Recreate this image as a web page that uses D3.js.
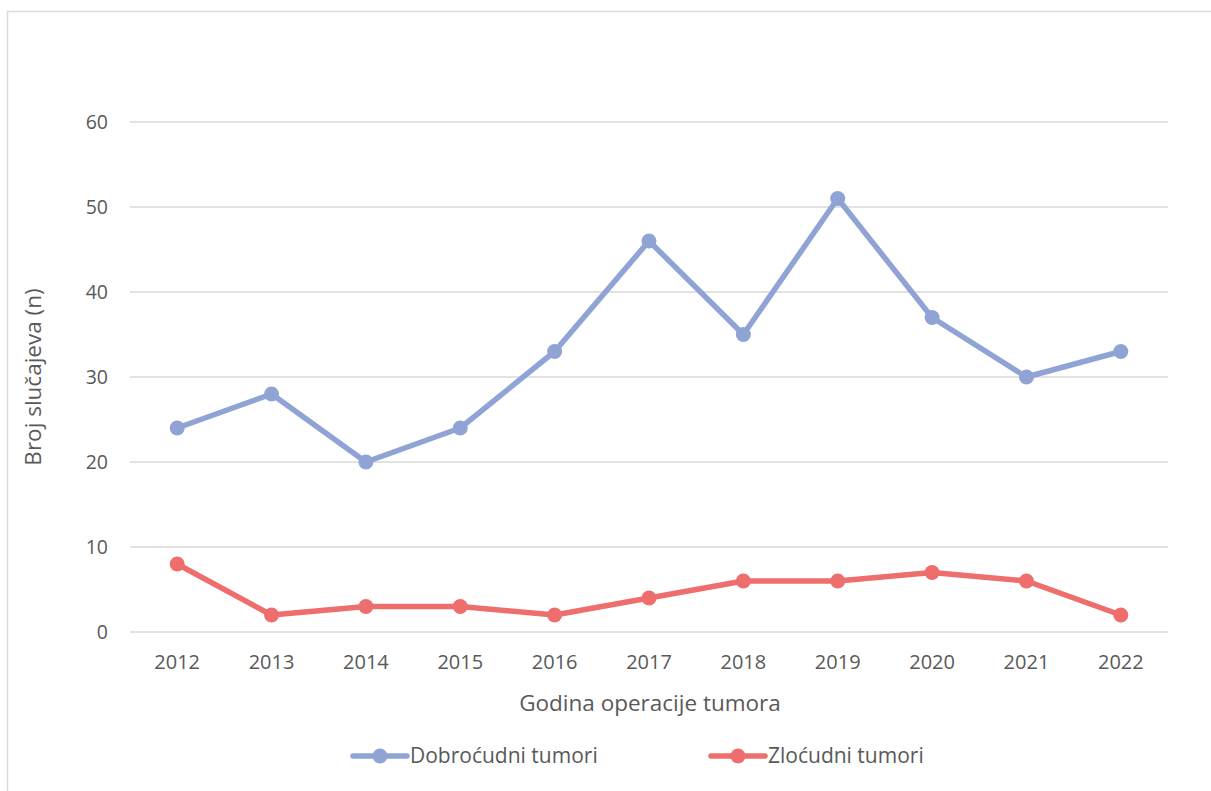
<!DOCTYPE html>
<html><head><meta charset="utf-8">
<script src="https://cdn.jsdelivr.net/npm/d3@7/dist/d3.min.js"></script>
<style>body{margin:0;background:#fff;}svg{display:block;}</style>
</head><body>
<script>
const years = ["2012","2013","2014","2015","2016","2017","2018","2019","2020","2021","2022"];
const benign = [24,28,20,24,33,46,35,51,37,30,33];
const malignant = [8,2,3,3,2,4,6,6,7,6,2];
const yTicks = [0,10,20,30,40,50,60];
const seriesNames = ["Dobroćudni tumori","Zloćudni tumori"];
const colors = ["#8FA3D5","#EE6D6D"];

const W=1211,H=791;
const svg=d3.select("body").append("svg").attr("width",W).attr("height",H);
const font="'Open Sans', 'Noto Sans', sans-serif";
svg.append("path").attr("d",`M7.5,${H} V11.5 H${W}`).attr("fill","none").attr("stroke","#d9d9d9").attr("stroke-width",1.5);

const x=d3.scaleBand().domain(years).range([130,1168]);
const y=d3.scaleLinear().domain([0,60]).range([632,122]);

const grid=svg.append("g");
grid.selectAll("line").data(yTicks).join("line")
 .attr("x1",130).attr("x2",1168).attr("y1",d=>y(d)).attr("y2",d=>y(d))
 .attr("stroke","#d9d9d9").attr("stroke-width",1.3);

const yAxis=svg.append("g").attr("transform","translate(130,0)")
 .call(d3.axisLeft(y).tickValues(yTicks).tickSize(0).tickPadding(22));
yAxis.select(".domain").remove();
yAxis.selectAll("text").attr("font-family",font).attr("font-size",19.5).attr("fill","#595959");

const xAxis=svg.append("g").attr("transform","translate(0,632)")
 .call(d3.axisBottom(x).tickSize(0).tickPadding(23));
xAxis.select(".domain").remove();
xAxis.selectAll("text").attr("font-family",font).attr("font-size",20).attr("fill","#595959");

svg.append("text").attr("x",650).attr("y",711).attr("text-anchor","middle")
 .attr("font-family",font).attr("font-size",22.5).attr("fill","#595959").text("Godina operacije tumora");
svg.append("text").attr("transform","translate(41,377) rotate(-90)").attr("text-anchor","middle")
 .attr("font-family",font).attr("font-size",22.5).attr("fill","#595959").text("Broj slučajeva (n)");

const cx=d=>x(d)+x.bandwidth()/2;
[benign,malignant].forEach((vals,i)=>{
  const data=years.map((yr,j)=>({yr,v:vals[j]}));
  svg.append("path").datum(data)
   .attr("d",d3.line().x(d=>cx(d.yr)).y(d=>y(d.v)))
   .attr("fill","none").attr("stroke",colors[i]).attr("stroke-width",5.5).attr("stroke-linejoin","round").attr("stroke-linecap","round");
  svg.append("g").selectAll("circle").data(data).join("circle")
   .attr("cx",d=>cx(d.yr)).attr("cy",d=>y(d.v)).attr("r",7.5).attr("fill",colors[i]);
});

const leg=[{x:353,tx:410},{x:711,tx:768}];
seriesNames.forEach((n,i)=>{
  const g=svg.append("g");
  g.append("line").attr("x1",leg[i].x).attr("x2",leg[i].x+54).attr("y1",756).attr("y2",756)
   .attr("stroke",colors[i]).attr("stroke-width",5.5).attr("stroke-linecap","round");
  g.append("circle").attr("cx",leg[i].x+27).attr("cy",756).attr("r",7.5).attr("fill",colors[i]);
  g.append("text").attr("x",leg[i].tx).attr("y",756).attr("dy","0.35em")
   .attr("font-family",font).attr("font-size",21).attr("fill","#595959").text(n);
});
</script>
</body></html>
